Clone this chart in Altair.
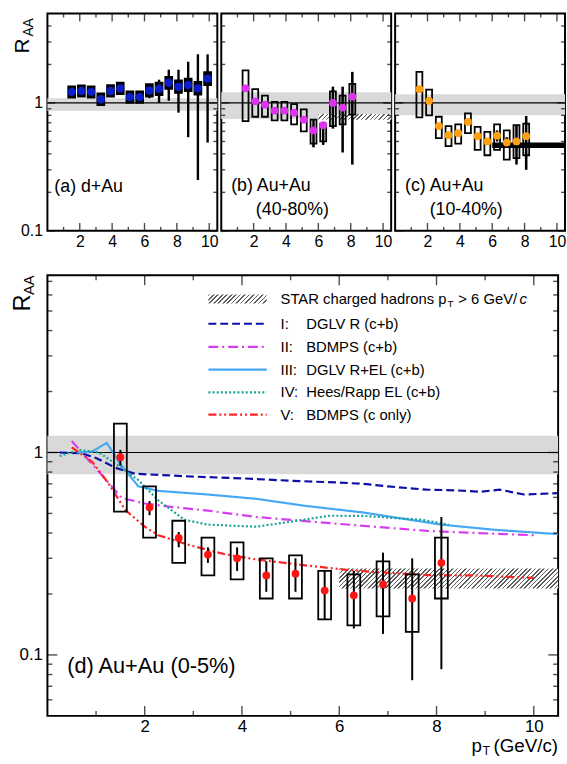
import altair as alt
import pandas as pd
import math

FONT = "Liberation Sans"

# ---------------- panel (a): d+Au ----------------
pt_a = [1.5, 2.1, 2.7, 3.3, 3.9, 4.5, 5.1, 5.7, 6.3, 6.9, 7.5, 8.1, 8.7, 9.3, 9.9]
raa_a = [1.22, 1.24, 1.22, 1.07, 1.24, 1.30, 1.11, 1.11, 1.25, 1.29, 1.44, 1.34, 1.38, 1.30, 1.55]
stat_lo_a = [1.12, 1.16, 1.14, 1.00, 1.16, 1.20, 1.02, 1.02, 1.09, 1.00, 1.04, 0.84, 0.54, 0.25, 0.49]
stat_hi_a = [1.33, 1.33, 1.30, 1.15, 1.33, 1.42, 1.20, 1.21, 1.40, 1.52, 1.82, 1.82, 2.10, 2.40, 2.40]
sys_lo_a = [1.10, 1.12, 1.10, 0.96, 1.12, 1.17, 1.00, 1.00, 1.12, 1.15, 1.29, 1.20, 1.24, 1.16, 1.38]
sys_hi_a = [1.35, 1.37, 1.35, 1.19, 1.38, 1.44, 1.23, 1.23, 1.40, 1.44, 1.60, 1.50, 1.55, 1.46, 1.74]
band_a = [0.87, 1.09]

# ---------------- panel (b): Au+Au 40-80% ----------------
pt_b = [1.5, 2.1, 2.7, 3.3, 3.9, 4.5, 5.1, 5.7, 6.3, 6.9, 7.5, 8.1]
raa_b = [1.30, 1.03, 0.97, 0.87, 0.87, 0.84, 0.74, 0.61, 0.67, 1.00, 0.92, 1.12]
stat_lo_b = [1.25, 0.98, 0.93, 0.83, 0.83, 0.80, 0.70, 0.45, 0.47, 0.63, 0.41, 0.33]
stat_hi_b = [1.35, 1.08, 1.01, 0.91, 0.91, 0.88, 0.78, 0.74, 0.70, 1.34, 1.34, 1.75]
sys_lo_b = [0.72, 0.78, 0.78, 0.73, 0.73, 0.68, 0.60, 0.48, 0.50, 0.66, 0.68, 0.81]
sys_hi_b = [1.80, 1.28, 1.14, 1.02, 1.02, 0.98, 0.89, 0.74, 0.69, 1.23, 1.14, 1.41]
band_b = [0.75, 1.21]
hatch_b = [6.0, 10.5, 0.74, 0.82]

# ---------------- panel (c): Au+Au 10-40% ----------------
pt_c = [1.5, 2.1, 2.7, 3.3, 3.9, 4.5, 5.1, 5.7, 6.3, 6.9, 7.5, 8.1]
raa_c = [1.28, 1.04, 0.66, 0.56, 0.58, 0.71, 0.55, 0.50, 0.555, 0.49, 0.50, 0.55]
stat_lo_c = [1.23, 1.00, 0.63, 0.53, 0.55, 0.68, 0.52, 0.47, 0.50, 0.45, 0.33, 0.30]
stat_hi_c = [1.33, 1.08, 0.69, 0.59, 0.61, 0.74, 0.58, 0.53, 0.61, 0.54, 0.67, 0.79]
sys_lo_c = [0.77, 0.80, 0.53, 0.46, 0.48, 0.58, 0.43, 0.39, 0.43, 0.36, 0.37, 0.39]
sys_hi_c = [1.75, 1.27, 0.78, 0.66, 0.68, 0.83, 0.65, 0.595, 0.68, 0.61, 0.67, 0.69]
band_c = [0.80, 1.17]
dark_c = [6.0, 10.5, 0.445, 0.49]

# ---------------- panel (d): Au+Au 0-5% ----------------
pt_d = [1.5, 2.1, 2.7, 3.3, 3.9, 4.5, 5.1, 5.7, 6.3, 6.9, 7.5, 8.1]
raa_d = [0.948, 0.536, 0.378, 0.313, 0.300, 0.247, 0.252, 0.208, 0.197, 0.223, 0.190, 0.285]
stat_lo_d = [0.86, 0.49, 0.34, 0.285, 0.26, 0.205, 0.205, 0.15, 0.135, 0.127, 0.075, 0.085]
stat_hi_d = [1.03, 0.575, 0.405, 0.34, 0.34, 0.29, 0.30, 0.26, 0.26, 0.32, 0.30, 0.48]
sys_lo_d = [0.51, 0.38, 0.285, 0.247, 0.236, 0.19, 0.19, 0.15, 0.14, 0.155, 0.13, 0.19]
sys_hi_d = [1.39, 0.68, 0.46, 0.38, 0.36, 0.30, 0.31, 0.26, 0.25, 0.29, 0.25, 0.38]
band_d = [0.78, 1.21]
hatch_d = [6.0, 10.5, 0.213, 0.267]

# theory curves (panel d)
c1_pt = [0.25, 0.7, 1.0, 1.4, 1.8, 2.5, 3.0, 4.0, 5.0, 6.0, 6.5, 7.0, 7.8, 8.4, 8.9, 9.3, 9.8, 10.5]
c1_raa = [1.0, 0.99, 0.94, 0.84, 0.785, 0.77, 0.76, 0.745, 0.725, 0.71, 0.70, 0.68, 0.655, 0.65, 0.64, 0.655, 0.62, 0.63]
c2_pt = [0.5, 0.78, 1.19, 1.53, 2.0, 2.5, 3.3, 4.3, 5.3, 6.5, 7.8, 8.5, 10.0]
c2_raa = [1.14, 0.955, 0.74, 0.595, 0.56, 0.54, 0.516, 0.48, 0.458, 0.434, 0.41, 0.403, 0.39]
c3_pt = [0.6, 0.92, 1.22, 1.36, 1.46, 1.87, 2.28, 3.3, 4.3, 5.3, 6.5, 8.1, 9.2, 10.5]
c3_raa = [1.0, 1.01, 1.115, 0.99, 0.90, 0.68, 0.646, 0.62, 0.59, 0.545, 0.505, 0.44, 0.415, 0.395]
c4_pt = [0.25, 0.65, 1.06, 1.46, 1.87, 2.28, 2.82, 3.3, 4.3, 5.0, 5.8, 6.5, 7.7, 8.25]
c4_raa = [0.96, 1.03, 1.0, 0.86, 0.73, 0.58, 0.465, 0.44, 0.43, 0.455, 0.487, 0.486, 0.465, 0.44]
c5_pt = [0.5, 0.92, 1.26, 1.6, 2.0, 2.28, 2.95, 3.63, 4.3, 5.3, 6.1, 6.8, 7.8, 8.8, 10.0]
c5_raa = [1.06, 0.90, 0.70, 0.52, 0.43, 0.39, 0.347, 0.315, 0.296, 0.277, 0.264, 0.256, 0.248, 0.247, 0.24]

curve_num = ["I:", "II:", "III:", "IV:", "V:"]
curve_name = ["DGLV R (c+b)", "BDMPS (c+b)", "DGLV R+EL (c+b)", "Hees/Rapp EL (c+b)", "BDMPS  (c only)"]
curve_color = ["#0d10a8", "#d83cf2", "#45a8f5", "#16a394", "#ff2424"]
curve_dash = [[8, 4], [10, 4, 2, 4], [1, 0], [2, 2.2], [8, 3, 2, 3, 2, 3]]
curves = [(c1_pt, c1_raa), (c2_pt, c2_raa), (c3_pt, c3_raa), (c4_pt, c4_raa), (c5_pt, c5_raa)]

x_labels = [2, 4, 6, 8, 10]
x_minor = [1, 3, 5, 7, 9]
y_major = [0.1, 1]
y_minor_top = [0.2, 0.3, 0.4, 0.5, 0.6, 0.7, 0.8, 0.9, 2, 3, 4]
y_minor_bot = [0.06, 0.07, 0.08, 0.09, 0.2, 0.3, 0.4, 0.5, 0.6, 0.7, 0.8, 0.9, 2, 3, 4, 5, 6, 7]

XMAX = 10.5
TOP_Y = [0.1, 5]
BOT_Y = [0.05, 7.5]
TW, TH = 172, 220
BW, BH = 517, 446


def hatch(w_px, h_px, period=4.4, frac=0.36, dark="#5e5e5e", light="#ffffff"):
    r = h_px / w_px
    a = (w_px + h_px) / (w_px * (1 + r * r))
    n = max(1, int(round((w_px + h_px) / period)))
    stops = []
    for i in range(n):
        o0, o1, o2 = i / n, (i + frac) / n, (i + 1) / n
        stops += [alt.GradientStop(color=dark, offset=o0), alt.GradientStop(color=dark, offset=o1),
                  alt.GradientStop(color=light, offset=o1), alt.GradientStop(color=light, offset=o2)]
    return alt.LinearGradient(gradient="linear", stops=stops, x1=0, y1=0, x2=a, y2=a * r)


def txt(s, x, y, size, align="left", angle=0, italic=False):
    return alt.Chart(pd.DataFrame({"t": [s]})).mark_text(
        font=FONT, fontSize=size, align=align, baseline="middle", angle=angle,
        color="black", fontStyle="italic" if italic else "normal"
    ).encode(text="t:N", x=alt.value(x), y=alt.value(y))


def panel(W, H, ydom, ylabel, lab_size, pt, raa, slo, shi, elo, ehi, color, band,
          box_w, pt_size, err_w, ticklen, extras=(), texts=(), box_fill=0):
    xs = alt.Scale(domain=[0, XMAX], nice=False, zero=False, padding=0)
    ys = alt.Scale(type="log", domain=ydom, nice=False, padding=0)
    xax = alt.Axis(values=x_labels, ticks=False, domain=False, grid=False, labelFont=FONT,
                   labelFontSize=lab_size, labelColor="black", labelPadding=3, format="d", title=None)
    if ylabel:
        yax = alt.Axis(values=y_major, ticks=False, domain=False, grid=False, labelFont=FONT,
                       labelFontSize=lab_size, labelColor="black", labelPadding=5,
                       labelExpr="datum.value < 0.5 ? '0.1' : '1'", title=None)
    else:
        yax = None

    def X(f):
        return alt.X(f, type="quantitative", scale=xs, axis=xax)

    def Y(f):
        return alt.Y(f, type="quantitative", scale=ys, axis=yax)

    ppx = H / math.log10(ydom[1] / ydom[0])
    layers = []
    bdf = pd.DataFrame({"x0": [0.0], "x1": [XMAX], "lo": [band[0]], "hi": [band[1]]})
    layers.append(alt.Chart(bdf).mark_rect(color="#d9d9d9").encode(x=X("x0"), x2="x1", y=Y("lo"), y2="hi"))
    layers.append(alt.Chart(pd.DataFrame({"one": [1.0]})).mark_rule(color="black", strokeWidth=1.2).encode(y=Y("one")))
    for kind, (x0, x1, lo, hi) in extras:
        if kind == "hatch":
            fill = hatch((x1 - x0) / XMAX * W, ppx * math.log10(hi / lo))
        else:
            fill = "black"
        edf = pd.DataFrame({"x0": [x0], "x1": [x1], "lo": [lo], "hi": [hi]})
        layers.append(alt.Chart(edf).mark_rect(color=fill).encode(x=X("x0"), x2="x1", y=Y("lo"), y2="hi"))
    for item in texts:
        layers.append(item)
    df = pd.DataFrame({"pt": pt, "raa": raa, "slo": slo, "shi": shi, "elo": elo, "ehi": ehi})
    layers.append(alt.Chart(df).mark_bar(size=box_w, fill="black", fillOpacity=box_fill, stroke="black", strokeWidth=1.8)
                  .encode(x=X("pt"), y=Y("slo"), y2="shi"))
    layers.append(alt.Chart(df).mark_rule(color="black", strokeWidth=err_w)
                  .encode(x=X("pt"), y=Y("elo"), y2="ehi"))
    layers.append(alt.Chart(df).mark_circle(size=pt_size, opacity=1, color=color)
                  .encode(x=X("pt"), y=Y("raa")))
    # inward ticks on all four sides (drawn inside the frame)
    yminor = y_minor_top if ydom[1] < 6 else y_minor_bot
    for vals, L in ((y_major, ticklen), (yminor, ticklen / 2)):
        tdf = pd.DataFrame({"v": vals})
        for px in (L / 2, W - L / 2):
            layers.append(alt.Chart(tdf).mark_tick(orient="horizontal", size=L, color="black", thickness=1.4)
                          .encode(y=Y("v"), x=alt.value(px)))
    for vals, L in ((x_labels, ticklen), (x_minor, ticklen / 2)):
        tdf = pd.DataFrame({"v": vals})
        for py in (L / 2, H - L / 2):
            layers.append(alt.Chart(tdf).mark_tick(orient="vertical", size=L, color="black", thickness=1.4)
                          .encode(x=X("v"), y=alt.value(py)))
    return layers, X, Y


# ---- top panels ----
ra_txt = [txt("R", -25, 33, 21, align="center", angle=270), txt("AA", -19, 14, 14, align="center", angle=270)]
la, _, _ = panel(TW, TH, TOP_Y, True, 16, pt_a, raa_a, sys_lo_a, sys_hi_a, stat_lo_a, stat_hi_a,
                 "#0b1ec8", band_a, 7, 72, 2.4, 8, box_fill=1,
                 texts=ra_txt + [txt("(a) d+Au", 7, 176, 18)])
pa = alt.layer(*la).properties(width=TW, height=TH)

lb, _, _ = panel(TW, TH, TOP_Y, False, 16, pt_b, raa_b, sys_lo_b, sys_hi_b, stat_lo_b, stat_hi_b,
                 "#dd35ee", band_b, 6, 62, 2.6, 8, extras=[("hatch", hatch_b)],
                 texts=[txt("(b) Au+Au", 10, 175, 18), txt("(40-80%)", 35, 199, 18)])
pb = alt.layer(*lb).properties(width=TW, height=TH)

lc, _, _ = panel(TW, TH, TOP_Y, False, 16, pt_c, raa_c, sys_lo_c, sys_hi_c, stat_lo_c, stat_hi_c,
                 "#ffa010", band_c, 6, 62, 2.6, 8, extras=[("dark", dark_c)],
                 texts=[txt("(c) Au+Au", 10, 175, 18), txt("(10-40%)", 35, 199, 18)])
pc = alt.layer(*lc).properties(width=TW, height=TH)

# ---- bottom panel ----
ld, Xd, Yd = panel(BW, BH, BOT_Y, True, 17, pt_d, raa_d, sys_lo_d, sys_hi_d, stat_lo_d, stat_hi_d,
                   "#ff1414", band_d, 13, 62, 2, 10, extras=[("hatch", hatch_d)],
                   texts=[txt("R", -25, 28, 24, align="center", angle=270),
                          txt("AA", -19, 10, 15, align="center", angle=270),
                          txt("(d) Au+Au (0-5%)", 20, 396, 22)])

curve_layers = []
for (cpt, craa), col, dash in zip(curves, curve_color, curve_dash):
    cdf = pd.DataFrame({"pt": cpt, "raa": craa})
    curve_layers.append(alt.Chart(cdf).mark_line(color=col, strokeDash=dash, strokeWidth=2.2, clip=True)
                        .encode(x=Xd("pt"), y=Yd("raa")))

# legend
leg_x0, leg_x1, num_x, name_x = 163, 222, 236, 262
row_y = [24, 49, 72.5, 95.5, 118.5, 141]
one = pd.DataFrame({"d": [0]})
legend_layers = [
    alt.Chart(one).mark_rect(color=hatch(leg_x1 - leg_x0, 9)).encode(
        x=alt.value(leg_x0), x2=alt.value(leg_x1), y=alt.value(row_y[0] - 4.5), y2=alt.value(row_y[0] + 4.5)),
    txt("STAR charged hadrons p", num_x, row_y[0], 15),
    txt("T", num_x + 169, row_y[0] + 5, 10),
    txt("> 6 GeV/", num_x + 180, row_y[0], 15),
    txt("c", num_x + 242, row_y[0], 15, italic=True),
]
for i in range(5):
    legend_layers.append(alt.Chart(one).mark_rule(color=curve_color[i], strokeDash=curve_dash[i], strokeWidth=2.2)
                         .encode(x=alt.value(leg_x0), x2=alt.value(leg_x1), y=alt.value(row_y[i + 1])))
    legend_layers.append(txt(curve_num[i], num_x, row_y[i + 1], 15))
    legend_layers.append(txt(curve_name[i], name_x, row_y[i + 1], 15))

title_layers = [
    txt("(GeV/c)", BW, BH + 31, 19, align="right"),
    txt("T", BW - 69, BH + 36, 12, align="right"),
    txt("p", BW - 77, BH + 31, 19, align="right"),
]

# curves go under the data points: insert before the box/err/point layers
n_front = 3 + 8
pd_layers = ld[:-n_front] + curve_layers + ld[-n_front:] + legend_layers + title_layers
pdd = alt.layer(*pd_layers).properties(width=BW, height=BH)

chart = alt.vconcat(
    alt.hconcat(pa, pb, pc, spacing=0),
    pdd,
    spacing=23,
).configure_view(stroke="black", strokeWidth=2).properties(
    padding={"left": 10, "top": 8, "right": 0, "bottom": 0}, background="white"
)

chart.save("out.html", embed_options={"renderer": "svg", "actions": False})
